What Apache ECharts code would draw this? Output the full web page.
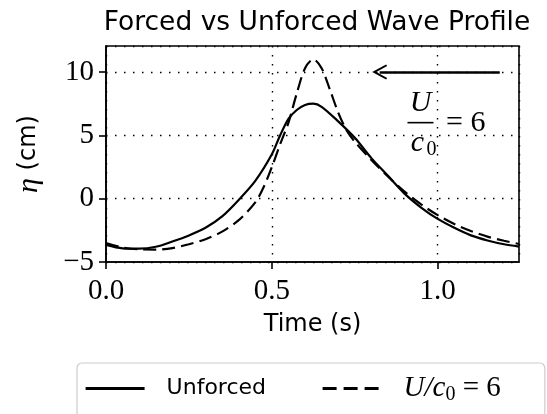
<!DOCTYPE html>
<html><head><meta charset="utf-8">
<script src="https://cdn.jsdelivr.net/npm/echarts@6/dist/echarts.min.js"></script>
<style>html,body{margin:0;padding:0;background:#fff}#c{width:547px;height:414px}</style>
</head><body><div id="c"></div>
<script>
// ---- data ----
const timeUnforced = [0, 0.05, 0.1, 0.15, 0.2, 0.25, 0.3, 0.35, 0.4, 0.45, 0.5, 0.525, 0.55, 0.575, 0.6, 0.625, 0.65, 0.7, 0.75, 0.8, 0.85, 0.9, 0.95, 1.0, 1.05, 1.1, 1.15, 1.2, 1.245];
const etaUnforced  = [-3.65, -3.92, -3.95, -3.8, -3.38, -2.9, -2.3, -1.4, -0.1, 1.4, 3.5, 5.0, 6.3, 7.0, 7.4, 7.5, 7.25, 6.1, 4.8, 3.2, 1.8, 0.4, -0.7, -1.6, -2.3, -2.9, -3.3, -3.6, -3.78];
const timeForced   = [0, 0.05, 0.1, 0.15, 0.2, 0.25, 0.3, 0.35, 0.4, 0.45, 0.475, 0.5, 0.525, 0.55, 0.575, 0.6, 0.625, 0.65, 0.675, 0.7, 0.725, 0.75, 0.8, 0.85, 0.9, 0.95, 1.0, 1.05, 1.1, 1.15, 1.2, 1.245];
const etaForced    = [-3.5, -3.85, -4.0, -4.02, -3.9, -3.6, -3.2, -2.6, -1.7, -0.3, 0.9, 2.5, 4.3, 6.0, 8.3, 10.3, 11.0, 10.3, 8.6, 6.8, 5.4, 4.5, 3.05, 1.75, 0.55, -0.45, -1.3, -2.0, -2.55, -3.0, -3.32, -3.58];
const xTickLabels  = ['0.0', '0.5', '1.0'];
const yTickLabels  = ['−5', '0', '5', '10'];
const arrowStart   = [1.187, 10];
const arrowEnd     = [0.825, 10];
const seriesNames  = ['Unforced', 'U/c0 = 6'];

const pair = (t, v) => t.map((x, i) => [x, v[i]]);
const serif = 'Liberation Serif';
const sans = 'DejaVu Sans';
const chevron = 'path://M5,0 L10,7.4 L9,8 L5,2.2 L1,8 L0,7.4 Z';
const noSymbol = {color: 'rgba(0,0,0,0)', borderColor: 'rgba(0,0,0,0)', borderWidth: 0};

const chart = echarts.init(document.getElementById('c'), null, {renderer: 'canvas'});
chart.setOption({
  animation: false,
  backgroundColor: '#fff',
  title: {
    text: 'Forced vs Unforced Wave Profile',
    left: 312, top: 5, textAlign: 'center',
    textStyle: {fontFamily: sans, fontSize: 26.5, fontWeight: 'normal', color: '#000'}
  },
  grid: {left: 106, right: 28, top: 46, bottom: 152, show: true, borderColor: '#000', borderWidth: 1.6, backgroundColor: 'transparent'},
  xAxis: {
    type: 'value', min: 0, max: 1.245, interval: 0.5,
    name: 'Time (s)', nameLocation: 'middle', nameGap: 51,
    nameTextStyle: {fontFamily: sans, fontSize: 24, color: '#000'},
    axisLine: {show: true, onZero: false, lineStyle: {color: '#000', width: 1.6}},
    axisTick: {show: true, length: 7, lineStyle: {color: '#000', width: 1.6}},
    axisLabel: {showMaxLabel: false, margin: 15, fontFamily: serif, fontSize: 29, color: '#000',
      formatter: v => { const i = Math.round(v / 0.5); return xTickLabels[i] || ''; }},
    splitLine: {show: true, lineStyle: {color: '#000', width: 1.4, type: [1.5, 7.5]}}
  },
  yAxis: {
    type: 'value', min: -5, max: 12.05, interval: 5,
    name: '{i|η}{s| (cm)}', nameLocation: 'middle', nameGap: 62,
    nameTextStyle: {color: '#000', rich: {
      i: {fontFamily: serif, fontStyle: 'italic', fontSize: 30, color: '#000'},
      s: {fontFamily: sans, fontSize: 24, color: '#000'}}},
    axisLine: {show: true, onZero: false, lineStyle: {color: '#000', width: 1.6}},
    axisTick: {show: true, length: 7, lineStyle: {color: '#000', width: 1.6}},
    axisLabel: {showMaxLabel: false, margin: 12, fontFamily: serif, fontSize: 29, color: '#000',
      formatter: v => { const i = Math.round((v + 5) / 5); return yTickLabels[i] || ''; }},
    splitLine: {show: true, lineStyle: {color: '#000', width: 1.4, type: [1.5, 7.5]}}
  },
  legend: {
    left: 77, top: 363,
    padding: [11, 44, 30, 7],
    itemWidth: 59, itemHeight: 26, itemGap: 55,
    backgroundColor: '#fff', borderColor: '#cccccc', borderWidth: 1.2, borderRadius: 5,
    data: [
      {name: seriesNames[0], lineStyle: {width: 3.2}, itemStyle: noSymbol},
      {name: seriesNames[1], lineStyle: {width: 3.2, type: [14, 7]}, itemStyle: noSymbol}
    ],
    formatter: name => name === seriesNames[0] ? '{t|Unforced}' : '{m|U/c}{sub|0}{e| = 6}',
    textStyle: {color: '#000', padding: [0, 0, 0, 17], rich: {
      t: {fontFamily: sans, fontSize: 22, color: '#000'},
      m: {fontFamily: serif, fontStyle: 'italic', fontSize: 29, color: '#000'},
      sub: {fontFamily: serif, fontSize: 20, color: '#000', padding: [12, 0, 0, 0]},
      e: {fontFamily: serif, fontSize: 29, color: '#000'}
    }}
  },
  series: [
    {
      name: seriesNames[0], type: 'line', data: pair(timeUnforced, etaUnforced),
      symbol: 'none', smooth: 0.3, clip: true,
      lineStyle: {color: '#000', width: 2.2},
      itemStyle: {color: '#000'},
      emphasis: {disabled: true},
      markLine: {
        silent: true, animation: false,
        symbol: ['none', chevron], symbolSize: 15,
        label: {show: false},
        lineStyle: {color: '#000', width: 2.6, type: 'solid'},
        data: [[{coord: arrowStart}, {coord: arrowEnd}]]
      }
    },
    {
      name: seriesNames[1], type: 'line', data: pair(timeForced, etaForced),
      symbol: 'none', smooth: 0.3, clip: true,
      lineStyle: {color: '#000', width: 2.2, type: [13, 6]},
      itemStyle: {color: '#000'},
      emphasis: {disabled: true}
    }
  ]
});

// fraction annotation U / c0 = 6, placed in data coordinates
const fracCenter = chart.convertToPixel({gridIndex: 0}, [0.948, 6.0]);
const eqPos = chart.convertToPixel({gridIndex: 0}, [1.025, 6.0]);
chart.setOption({
  graphic: [
    {type: 'text', x: fracCenter[0], y: fracCenter[1] - 20, style: {text: 'U', font: 'italic 30px "Liberation Serif"', fill: '#000', align: 'center', verticalAlign: 'middle'}},
    {type: 'rect', shape: {x: fracCenter[0] - 13, y: fracCenter[1] - 0.8, width: 26, height: 1.6}, style: {fill: '#000'}},
    {type: 'text', x: fracCenter[0] - 3, y: fracCenter[1] + 20, style: {text: 'c', font: 'italic 30px "Liberation Serif"', fill: '#000', align: 'center', verticalAlign: 'middle'}},
    {type: 'text', x: fracCenter[0] + 11, y: fracCenter[1] + 27, style: {text: '0', font: '20px "Liberation Serif"', fill: '#000', align: 'center', verticalAlign: 'middle'}},
    {type: 'text', x: eqPos[0], y: eqPos[1], style: {text: '= 6', font: '30px "Liberation Serif"', fill: '#000', align: 'left', verticalAlign: 'middle'}}
  ]
});
</script></body></html>
